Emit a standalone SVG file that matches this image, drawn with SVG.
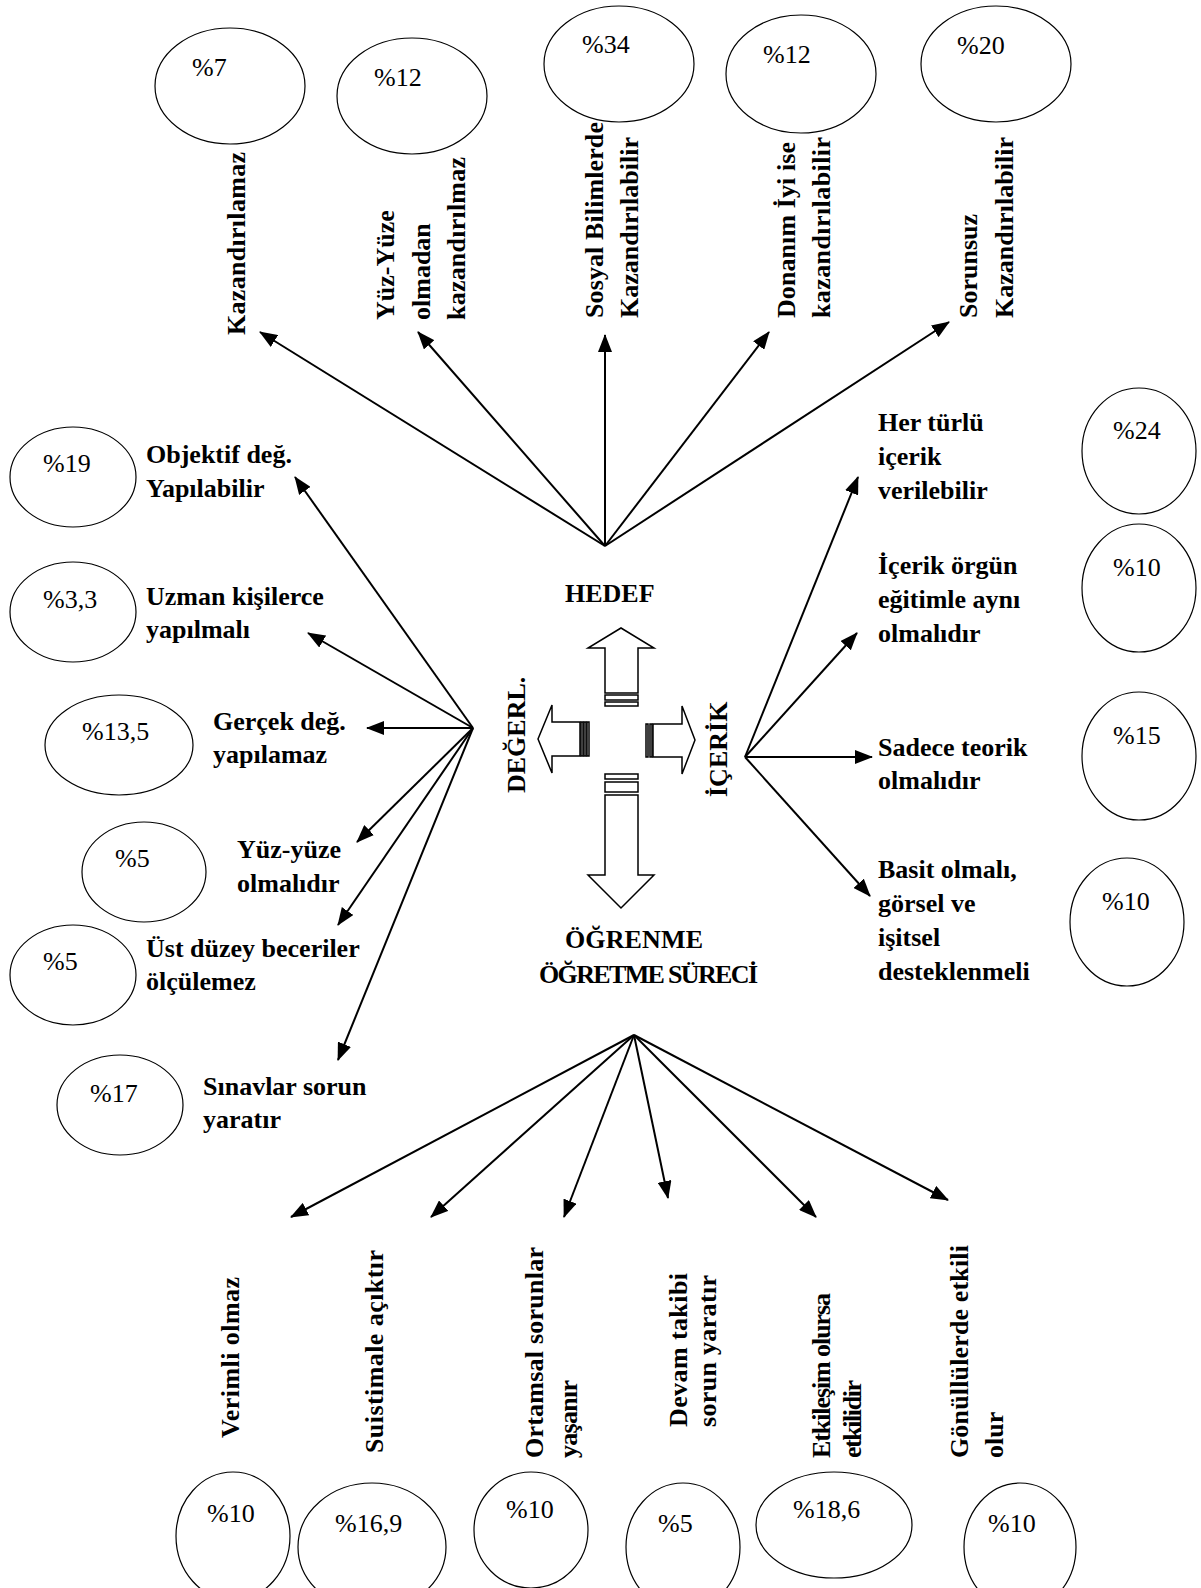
<svg xmlns="http://www.w3.org/2000/svg" width="1201" height="1588" viewBox="0 0 1201 1588">
<style>
.lbl{font-family:"Liberation Serif","Times New Roman",serif;font-weight:bold;font-size:26px;fill:#000}
.pct{font-family:"Liberation Serif","Times New Roman",serif;font-size:26px;fill:#000}
.ell{fill:none;stroke:#000;stroke-width:1.2}
.con{stroke:#000;stroke-width:2;fill:none;marker-end:url(#ah)}
.blk{fill:#fff;stroke:#000;stroke-width:1.5}
</style>
<defs>
<marker id="ah" viewBox="0 0 18 14" refX="17" refY="7" markerWidth="18" markerHeight="14" markerUnits="userSpaceOnUse" orient="auto">
<path d="M0,0 L18,7 L0,14 z" fill="#000"/>
</marker>
</defs>
<rect width="1201" height="1588" fill="#fff"/>

<g id="connectors">
<line class="con" x1="605" y1="546" x2="260" y2="332"/>
<line class="con" x1="605" y1="546" x2="418" y2="332"/>
<line class="con" x1="605" y1="546" x2="605" y2="335"/>
<line class="con" x1="605" y1="546" x2="769" y2="332"/>
<line class="con" x1="605" y1="546" x2="949" y2="322"/>
<line class="con" x1="473" y1="728" x2="295" y2="477"/>
<line class="con" x1="473" y1="728" x2="308" y2="633"/>
<line class="con" x1="473" y1="728" x2="367" y2="728"/>
<line class="con" x1="473" y1="728" x2="357" y2="842"/>
<line class="con" x1="473" y1="728" x2="338" y2="925"/>
<line class="con" x1="473" y1="728" x2="338" y2="1060"/>
<line class="con" x1="745" y1="757" x2="858" y2="477"/>
<line class="con" x1="745" y1="757" x2="857" y2="633"/>
<line class="con" x1="745" y1="757" x2="872" y2="757"/>
<line class="con" x1="745" y1="757" x2="870" y2="896"/>
<line class="con" x1="634" y1="1035" x2="291" y2="1217"/>
<line class="con" x1="634" y1="1035" x2="431" y2="1217"/>
<line class="con" x1="634" y1="1035" x2="564" y2="1217"/>
<line class="con" x1="634" y1="1035" x2="668" y2="1198"/>
<line class="con" x1="634" y1="1035" x2="816" y2="1217"/>
<line class="con" x1="634" y1="1035" x2="948" y2="1200"/>
</g>

<g id="center">
<polygon class="blk" points="605,693 605,648 588,648 621,628 654,648 638,648 638,693"/>
<rect class="blk" x="605" y="695" width="33" height="5"/>
<rect class="blk" x="605" y="702" width="33" height="4"/>
<rect class="blk" x="605" y="774" width="33" height="5"/>
<rect class="blk" x="605" y="782" width="33" height="10"/>
<polygon class="blk" points="605,795 638,795 638,875 654,875 621,908 588,875 605,875"/>
<polygon class="blk" points="580,722 552,722 552,705 538,739 552,773 552,756 580,756"/>
<rect class="blk" x="581" y="722" width="2" height="34"/>
<rect class="blk" x="584" y="722" width="2" height="34"/>
<rect class="blk" x="587" y="722" width="2" height="34"/>
<rect class="blk" x="646" y="724" width="2" height="33"/>
<rect class="blk" x="650" y="724" width="2" height="33"/>
<polygon class="blk" points="653,724 682,724 682,706 695,740 682,774 682,757 653,757"/>
</g>

<g id="hedef"><text class="lbl" x="565" y="602" font-size="27">HEDEF</text></g>
<g id="degerl"><text class="lbl" transform="translate(525,793) rotate(-90)" font-size="27">DEĞERL.</text></g>
<g id="icerik"><text class="lbl" transform="translate(727,797) rotate(-90)" font-size="27">İÇERİK</text></g>
<g id="ogrenme">
<text class="lbl" x="565" y="948" textLength="138">ÖĞRENME</text>
<text class="lbl" x="539" y="983" textLength="219">ÖĞRETME SÜRECİ</text>
</g>

<g id="t1"><ellipse class="ell" cx="230" cy="86" rx="75" ry="58"/><text class="pct" x="192" y="76">%7</text>
<text class="lbl" transform="translate(245,335) rotate(-90)" font-size="29" textLength="183">Kazandırılamaz</text></g>
<g id="t2"><ellipse class="ell" cx="412" cy="96" rx="75" ry="58"/><text class="pct" x="374" y="86">%12</text>
<text class="lbl" transform="translate(394,320) rotate(-90)">Yüz-Yüze</text>
<text class="lbl" transform="translate(430,320) rotate(-90)">olmadan</text>
<text class="lbl" transform="translate(465,320) rotate(-90)" textLength="163">kazandırılmaz</text></g>
<g id="t3"><ellipse class="ell" cx="619" cy="64" rx="75" ry="58"/><text class="pct" x="582" y="53">%34</text>
<text class="lbl" transform="translate(603,318) rotate(-90)" textLength="196">Sosyal Bilimlerde</text>
<text class="lbl" transform="translate(638,318) rotate(-90)" textLength="181">Kazandırılabilir</text></g>
<g id="t4"><ellipse class="ell" cx="801" cy="74" rx="75" ry="59"/><text class="pct" x="763" y="63">%12</text>
<text class="lbl" transform="translate(795,318) rotate(-90)" textLength="176">Donanım İyi ise</text>
<text class="lbl" transform="translate(830,318) rotate(-90)" textLength="181">kazandırılabilir</text></g>
<g id="t5"><ellipse class="ell" cx="996" cy="64" rx="75" ry="58"/><text class="pct" x="957" y="54">%20</text>
<text class="lbl" transform="translate(977,318) rotate(-90)">Sorunsuz</text>
<text class="lbl" transform="translate(1013,318) rotate(-90)" textLength="181">Kazandırılabilir</text></g>

<g id="l1"><ellipse class="ell" cx="73" cy="477" rx="63" ry="50"/><text class="pct" x="43" y="472">%19</text>
<text class="lbl" x="146" y="463">Objektif değ.</text><text class="lbl" x="146" y="497">Yapılabilir</text></g>
<g id="l2"><ellipse class="ell" cx="73" cy="612" rx="63" ry="50"/><text class="pct" x="43" y="608">%3,3</text>
<text class="lbl" x="146" y="605">Uzman kişilerce</text><text class="lbl" x="146" y="638">yapılmalı</text></g>
<g id="l3"><ellipse class="ell" cx="119" cy="745" rx="74" ry="50"/><text class="pct" x="82" y="740">%13,5</text>
<text class="lbl" x="213" y="730">Gerçek değ.</text><text class="lbl" x="213" y="763">yapılamaz</text></g>
<g id="l4"><ellipse class="ell" cx="144" cy="872" rx="62" ry="50"/><text class="pct" x="115" y="867">%5</text>
<text class="lbl" x="237" y="858">Yüz-yüze</text><text class="lbl" x="237" y="892">olmalıdır</text></g>
<g id="l5"><ellipse class="ell" cx="73" cy="975" rx="63" ry="50"/><text class="pct" x="43" y="970">%5</text>
<text class="lbl" x="146" y="957">Üst düzey beceriler</text><text class="lbl" x="146" y="990">ölçülemez</text></g>
<g id="l6"><ellipse class="ell" cx="120" cy="1105" rx="63" ry="50"/><text class="pct" x="90" y="1102">%17</text>
<text class="lbl" x="203" y="1095">Sınavlar sorun</text><text class="lbl" x="203" y="1128">yaratır</text></g>

<g id="r1"><ellipse class="ell" cx="1139" cy="451" rx="57" ry="63"/><text class="pct" x="1113" y="439">%24</text>
<text class="lbl" x="878" y="431">Her türlü</text><text class="lbl" x="878" y="465">içerik</text><text class="lbl" x="878" y="499">verilebilir</text></g>
<g id="r2"><ellipse class="ell" cx="1139" cy="588" rx="57" ry="64"/><text class="pct" x="1113" y="576">%10</text>
<text class="lbl" x="878" y="574">İçerik örgün</text><text class="lbl" x="878" y="608">eğitimle aynı</text><text class="lbl" x="878" y="642">olmalıdır</text></g>
<g id="r3"><ellipse class="ell" cx="1139" cy="756" rx="57" ry="64"/><text class="pct" x="1113" y="744">%15</text>
<text class="lbl" x="878" y="756">Sadece teorik</text><text class="lbl" x="878" y="789">olmalıdır</text></g>
<g id="r4"><ellipse class="ell" cx="1127" cy="922" rx="57" ry="64"/><text class="pct" x="1102" y="910">%10</text>
<text class="lbl" x="878" y="878">Basit olmalı,</text><text class="lbl" x="878" y="912">görsel ve</text><text class="lbl" x="878" y="946">işitsel</text><text class="lbl" x="878" y="980">desteklenmeli</text></g>

<g id="b1"><ellipse class="ell" cx="233" cy="1536" rx="57" ry="64"/><text class="pct" x="207" y="1522">%10</text>
<text class="lbl" transform="translate(239,1438) rotate(-90)" textLength="161">Verimli olmaz</text></g>
<g id="b2"><ellipse class="ell" cx="372" cy="1547" rx="74" ry="64"/><text class="pct" x="335" y="1532">%16,9</text>
<text class="lbl" transform="translate(383,1453) rotate(-90)" textLength="203">Suistimale açıktır</text></g>
<g id="b3"><ellipse class="ell" cx="531" cy="1530" rx="57" ry="58"/><text class="pct" x="506" y="1518">%10</text>
<text class="lbl" transform="translate(543,1458) rotate(-90)" textLength="211">Ortamsal sorunlar</text>
<text class="lbl" transform="translate(577,1458) rotate(-90)" textLength="78">yaşanır</text></g>
<g id="b4"><ellipse class="ell" cx="683" cy="1547" rx="57" ry="64"/><text class="pct" x="658" y="1532">%5</text>
<text class="lbl" transform="translate(687,1427) rotate(-90)" textLength="154">Devam takibi</text>
<text class="lbl" transform="translate(716,1427) rotate(-90)" textLength="152">sorun yaratır</text></g>
<g id="b5"><ellipse class="ell" cx="834" cy="1525" rx="78" ry="53"/><text class="pct" x="793" y="1518">%18,6</text>
<text class="lbl" transform="translate(830,1458) rotate(-90)" font-size="22" textLength="165">Etkileşim olursa</text>
<text class="lbl" transform="translate(861,1458) rotate(-90)" font-size="22" textLength="78">etkilidir</text></g>
<g id="b6"><ellipse class="ell" cx="1020" cy="1547" rx="56" ry="64"/><text class="pct" x="988" y="1532">%10</text>
<text class="lbl" transform="translate(968,1458) rotate(-90)" textLength="213">Gönüllülerde etkili</text>
<text class="lbl" transform="translate(1003,1458) rotate(-90)">olur</text></g>
</svg>
